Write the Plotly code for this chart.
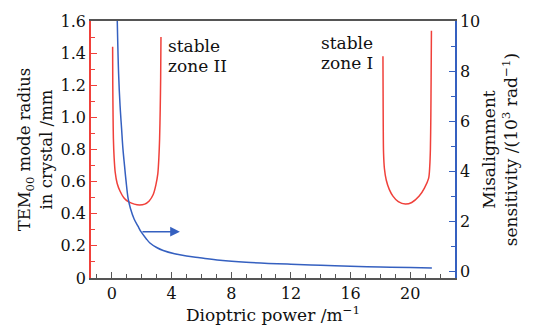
import plotly.graph_objects as go

# Zone II (left stable zone) mode radius, mm
zone2_x = [0.05, 0.06, 0.08, 0.10, 0.15, 0.22, 0.35, 0.55, 0.8, 1.1, 1.5, 1.85, 2.2, 2.5, 2.77, 2.95, 3.08, 3.15, 3.20, 3.24, 3.27, 3.29]
zone2_w = [1.44, 1.20, 1.00, 0.87, 0.75, 0.66, 0.59, 0.54, 0.50, 0.475, 0.46, 0.455, 0.46, 0.48, 0.52, 0.58, 0.65, 0.75, 0.87, 1.05, 1.25, 1.50]

# Zone I (right stable zone) mode radius, mm
zone1_x = [18.17, 18.18, 18.19, 18.21, 18.27, 18.39, 18.6, 18.84, 19.2, 19.67, 20.1, 20.6, 20.95, 21.23, 21.31, 21.35, 21.38, 21.40, 21.42]
zone1_w = [1.38, 1.15, 0.95, 0.78, 0.68, 0.61, 0.55, 0.51, 0.475, 0.46, 0.47, 0.51, 0.56, 0.62, 0.70, 0.80, 1.00, 1.25, 1.54]

# Misalignment sensitivity, 10^3 rad^-1
sens_x = [0.34, 0.45, 0.55, 0.65, 0.74, 0.85, 0.95, 1.09, 1.25, 1.49, 1.75, 1.95, 2.3, 2.55, 3.0, 3.44, 4.2, 5.0, 5.9, 7.25, 9.0, 12.0, 14.0, 16.0, 18.0, 20.0, 21.45]
sens_v = [10.6, 7.9, 6.6, 5.7, 4.9, 4.2, 3.6, 2.9, 2.5, 2.09, 1.8, 1.58, 1.30, 1.13, 0.95, 0.83, 0.70, 0.61, 0.54, 0.44, 0.36, 0.28, 0.24, 0.20, 0.17, 0.15, 0.13]

x_ticks = [0, 4, 8, 12, 16, 20]
y_ticks = [0, 0.2, 0.4, 0.6, 0.8, 1.0, 1.2, 1.4, 1.6]
y_tick_text = ["0", "0.2", "0.4", "0.6", "0.8", "1.0", "1.2", "1.4", "1.6"]
y2_ticks = [0, 2, 4, 6, 8, 10]

# Zone labels: (text, x, y) in data units of x / left y
zone_labels = [("stable", 3.6, 1.445), ("zone II", 3.6, 1.318),
               ("stable", 13.9, 1.464), ("zone I", 13.9, 1.339)]

RED = "#f0403a"
BLUE = "#3560c0"
GRAY = "#555555"
FONT = "DejaVu Serif"
TICKFONT = dict(family=FONT, size=16, color="#111")

fig = go.Figure()
fig.add_trace(go.Scatter(x=zone2_x, y=zone2_w, mode="lines", line=dict(color=RED, width=1.5, shape="spline", smoothing=0.8), yaxis="y"))
fig.add_trace(go.Scatter(x=zone1_x, y=zone1_w, mode="lines", line=dict(color=RED, width=1.5, shape="spline", smoothing=0.8), yaxis="y"))
fig.add_trace(go.Scatter(x=sens_x, y=sens_v, mode="lines", line=dict(color=BLUE, width=1.5, shape="spline"), yaxis="y2"))

fig.add_annotation(x=4.56, y=1.58, xref="x", yref="y2", ax=1.95, ay=1.58, axref="x", ayref="y2",
                   showarrow=True, arrowhead=2, arrowsize=1.3, arrowwidth=1.5, arrowcolor=BLUE, text="")
for txt, lx, ly in zone_labels:
    fig.add_annotation(x=lx, y=ly, xref="x", yref="y", xanchor="left", yanchor="middle", align="left",
                       text=txt, showarrow=False, font=dict(family=FONT, size=17, color="#111"))

fig.update_layout(
    width=542, height=327,
    margin=dict(l=91, r=87, t=17, b=46),
    paper_bgcolor="white", plot_bgcolor="white",
    showlegend=False,
    font=dict(family=FONT, size=16, color="#111"),
    xaxis=dict(range=[-1.4, 23], tickvals=x_ticks, ticks="inside", ticklen=6, tickcolor=GRAY, tickfont=TICKFONT,
               minor=dict(dtick=1, ticks="inside", ticklen=4, tickcolor=GRAY),
               showline=True, linecolor=GRAY, linewidth=1.5, mirror=True, showgrid=False, zeroline=False,
               title=dict(text="Dioptric power /m<sup>−1</sup>", standoff=0, font=dict(family=FONT, size=17))),
    yaxis=dict(range=[0, 1.6], tickvals=y_ticks, ticktext=y_tick_text, ticks="inside", ticklen=6, tickcolor=RED,
               tickfont=TICKFONT,
               minor=dict(dtick=0.1, ticks="inside", ticklen=4, tickcolor=RED),
               showline=True, linecolor=RED, linewidth=1.5, showgrid=False, zeroline=False,
               title=dict(text="TEM<sub>00</sub> mode radius<br>in crystal /mm", standoff=4, font=dict(family=FONT, size=16.5))),
    yaxis2=dict(range=[-0.27, 10], overlaying="y", side="right", tickvals=y2_ticks, ticks="inside", ticklen=6,
                tickcolor=BLUE, tickfont=TICKFONT, minor=dict(dtick=1, ticks="inside", ticklen=4, tickcolor=BLUE),
                showline=True, linecolor=BLUE, linewidth=1.5, showgrid=False, zeroline=False,
                title=dict(text="Misalignment<br>sensitivity /(10<sup>3</sup> rad<sup>−1</sup>)", standoff=4, font=dict(family=FONT, size=17))),
)

fig.write_html("out.html")
